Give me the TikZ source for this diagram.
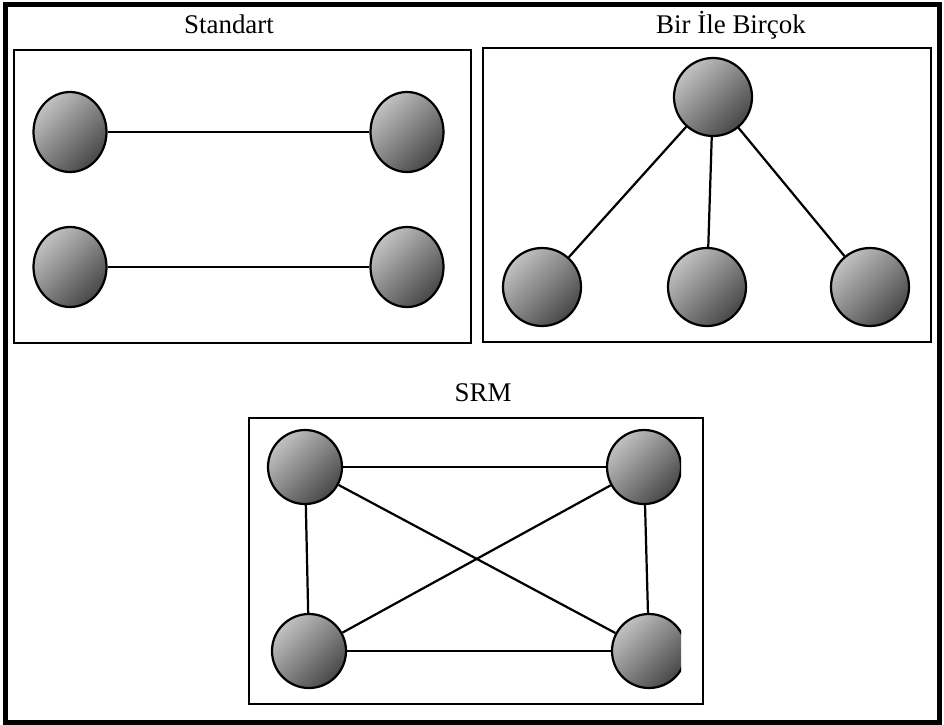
\documentclass[tikz,border=0pt]{standalone}
\usepackage{fontspec}
\setmainfont{Liberation Serif}
\usetikzlibrary{shapes.geometric}

\begin{document}
\begin{tikzpicture}[x=0.03cm,y=-0.03cm,
    ball/.style={ellipse,draw,line width=1.9pt,inner sep=0pt,
      top color=black!24,bottom color=black!72,shading angle=45},
    panel/.style={draw,line width=2.3pt},
    title/.style={anchor=base,font=\fontsize{23}{27}\selectfont},
    link/.style={line width=1.9pt}]
    \useasboundingbox (0,0) rectangle (944,725);
    \draw[line width=4.7pt] (5.5,4.5) rectangle (939.5,722.5);

    \draw[panel] (14,50) rectangle (471,343);
    \draw[panel] (483,48) rectangle (931,342);
    \draw[panel] (249,418) rectangle (703,704);

    \node[title] (std) at (229,33.5) {Standart};
    \node[title] (one) at (731,33.5) {Bir İle Birçok};
    \node[title] (srm) at (483,401) {SRM};

    \begin{scope}[every node/.style={ball,minimum width=2.19cm,minimum height=2.4cm}]
      \node (a1) at (70,132) {};
      \node (a2) at (407,132) {};
      \node (b1) at (70,267) {};
      \node (b2) at (407,267) {};
    \end{scope}
    \draw[link] (a1) -- (a2);
    \draw[link] (b1) -- (b2);

    \begin{scope}[every node/.style={ball,minimum width=2.34cm,minimum height=2.34cm}]
      \node (root) at (713,97) {};
      \node (c1) at (542,287) {};
      \node (c2) at (707,287) {};
      \node (c3) at (870,287) {};
    \end{scope}
    \foreach \n in {c1,c2,c3}
      \draw[link] (root) -- (\n);

    \begin{scope}[every node/.style={ball,minimum width=2.22cm,minimum height=2.22cm}]
      \clip (0,0) rectangle (681,725);
      \node (tl) at (305,467) {};
      \node (tr) at (644,467) {};
      \node (bl) at (309,651) {};
      \node (br) at (649,651) {};
    \end{scope}
    \draw[link] (tl) -- (tr);
    \draw[link] (bl) -- (br);
    \draw[link] (tl) -- (bl);
    \draw[link] (tr) -- (br);
    \draw[link] (tl) -- (br);
    \draw[link] (tr) -- (bl);
\end{tikzpicture}
\end{document}
